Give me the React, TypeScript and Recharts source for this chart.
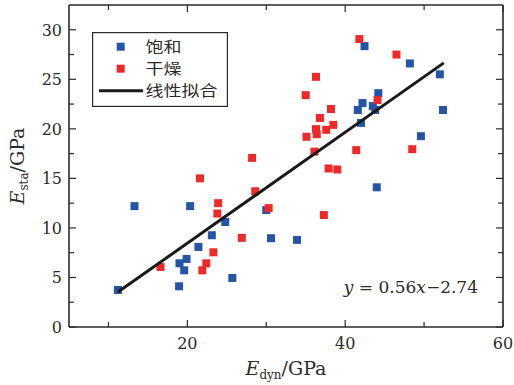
import { ScatterChart, Scatter, XAxis, YAxis, ZAxis, Legend } from 'recharts';

// 饱和 (saturated) samples
const saturatedDyn = [11.2, 13.3, 18.95, 19.0, 19.6, 19.9, 20.35, 21.4, 23.1, 24.8, 25.7, 30.0, 30.6, 33.9, 41.6, 42.0, 42.2, 42.45, 43.5, 43.8, 44.0, 44.2, 48.2, 49.6, 52.0, 52.4];
const saturatedSta = [3.74, 12.2, 4.11, 6.43, 5.72, 6.87, 12.2, 8.08, 9.26, 10.6, 4.95, 11.8, 8.96, 8.79, 21.9, 20.6, 22.6, 28.35, 22.3, 21.9, 14.1, 23.6, 26.6, 19.26, 25.5, 21.9];

// 干燥 (dry) samples
const dryDyn = [16.6, 21.6, 21.9, 22.4, 23.3, 23.8, 23.9, 26.9, 28.2, 28.6, 30.3, 35.0, 35.1, 36.1, 36.3, 36.3, 36.4, 36.8, 37.3, 37.6, 37.9, 38.2, 38.5, 39.0, 41.4, 41.8, 44.1, 46.5, 48.5];
const drySta = [6.06, 15.0, 5.72, 6.43, 7.54, 11.45, 12.5, 9.0, 17.07, 13.7, 12.0, 23.4, 19.2, 17.7, 25.25, 19.97, 19.46, 21.1, 11.3, 19.9, 16.0, 22.0, 20.4, 15.9, 17.85, 29.06, 22.9, 27.5, 17.95];

// 线性拟合 endpoints, y = 0.56x - 2.74
const fitDyn = [11.2, 52.5];
const fitSta = [3.53, 26.66];

const xTicks = [10, 20, 30, 40, 50, 60];
const xLabelTicks = [20, 40, 60];
const yTicks = [0, 2.5, 5, 7.5, 10, 12.5, 15, 17.5, 20, 22.5, 25, 27.5, 30];
const yLabelTicks = [0, 5, 10, 15, 20, 25, 30];

const BLUE = '#2454a6';
const RED = '#ec2a2a';
const INK = '#2a2a2a';
const SERIF = '"DejaVu Serif", serif';

const zip = (xs: number[], ys: number[]) => xs.map((x, i) => ({ x, y: ys[i] }));

const saturated = zip(saturatedDyn, saturatedSta);
const dry = zip(dryDyn, drySta);
const fit = zip(fitDyn, fitSta);

function makeTick(side: 'left' | 'right' | 'top' | 'bottom', labels: number[], showLabel: boolean) {
    return (props: any) => {
        const { x, y, payload } = props;
        const v = payload.value;
        const major = labels.includes(v);
        const len = major ? 7 : 5;
        let x2 = x, y2 = y;
        if (side == 'left') x2 = x + len;
        if (side == 'right') x2 = x - len;
        if (side == 'top') y2 = y + len;
        if (side == 'bottom') y2 = y - len;
        return (
            <g>
                <line x1={x} y1={y} x2={x2} y2={y2} stroke={INK} strokeWidth={1.2} />
                {showLabel && major && side == 'left' && (
                    <text x={x - 7} y={y} dy="0.36em" textAnchor="end" fontSize={16} fontFamily={SERIF} fill={INK}>{v}</text>
                )}
                {showLabel && major && side == 'bottom' && (
                    <text x={x} y={y + 21.5} textAnchor="middle" fontSize={16} fontFamily={SERIF} fill={INK}>{v}</text>
                )}
            </g>
        );
    };
}

const yTitle = (props: any) => {
    const vb = props.viewBox || { x: 0, y: 5, width: 69, height: 322 };
    const cx = vb.x + 24;
    const cy = vb.y + vb.height / 2;
    return (
        <text x={cx} y={cy} transform={`rotate(-90, ${cx}, ${cy})`} textAnchor="middle" fontSize={19} fontFamily={SERIF} fill={INK}>
            <tspan fontStyle="italic">E</tspan>
            <tspan fontSize={12} dy={4}>sta</tspan>
            <tspan dy={-4}>/GPa</tspan>
        </text>
    );
};

const xTitle = (props: any) => {
    const vb = props.viewBox || { x: 69, y: 327, width: 434, height: 58 };
    const cx = vb.x + vb.width / 2;
    return (
        <text x={cx} y={vb.y + 48} textAnchor="middle" fontSize={19} fontFamily={SERIF} fill={INK}>
            <tspan fontStyle="italic">E</tspan>
            <tspan fontSize={12} dy={4}>dyn</tspan>
            <tspan dy={-4}>/GPa</tspan>
        </text>
    );
};

const legendRows = [
    { name: '饱和', color: BLUE, kind: 'square', w: 36 },
    { name: '干燥', color: RED, kind: 'square', w: 36 },
    { name: '线性拟合', color: '#1a1a1a', kind: 'line', w: 72 },
];

const renderLegend = () => (
    <svg width={136} height={75} style={{ display: 'block' }}>
        <rect x={0.6} y={0.6} width={134.8} height={73.8} fill="#fff" stroke={INK} strokeWidth={1.2} />
        {legendRows.map((r, i) => {
            const cy = 14.7 + i * 22;
            return (
                <g key={r.name}>
                    {r.kind == 'square'
                        ? <rect x={24.7} y={cy - 4} width={8} height={8} fill={r.color} />
                        : <line x1={7} y1={cy} x2={51} y2={cy} stroke={r.color} strokeWidth={3} />}
                    <text
                        x={53.5} y={cy} dy="0.38em" fontSize={14.5} textLength={r.w} lengthAdjust="spacingAndGlyphs"
                        fontFamily='"Noto Sans CJK SC", sans-serif' fill={INK}
                    >{r.name}</text>
                </g>
            );
        })}
    </svg>
);

export default function App() {
    return (
        <div style={{ position: 'absolute', left: 0, top: 0, width: 514, height: 385, background: '#fff' }}>
            <ScatterChart width={514} height={385} margin={{ top: 0, right: 0, bottom: 0, left: 0 }}>
                <XAxis
                    type="number" dataKey="x" domain={[5, 60]} allowDataOverflow ticks={xTicks} interval={0}
                    height={58} tickSize={0} tickMargin={0} tickLine={false}
                    axisLine={{ stroke: INK, strokeWidth: 1.6 }}
                    tick={makeTick('bottom', xLabelTicks, true)}
                    label={{ content: xTitle }}
                />
                <XAxis
                    xAxisId="top" orientation="top" type="number" dataKey="x" domain={[5, 60]} allowDataOverflow ticks={xTicks} interval={0}
                    height={5} tickSize={0} tickMargin={0} tickLine={false}
                    axisLine={{ stroke: INK, strokeWidth: 1.6 }}
                    tick={makeTick('top', xLabelTicks, false)}
                />
                <YAxis
                    type="number" dataKey="y" domain={[0, 32.5]} allowDataOverflow ticks={yTicks} interval={0}
                    width={69} tickSize={0} tickMargin={0} tickLine={false}
                    axisLine={{ stroke: INK, strokeWidth: 1.6 }}
                    tick={makeTick('left', yLabelTicks, true)}
                    label={{ content: yTitle }}
                />
                <YAxis
                    yAxisId="right" orientation="right" type="number" dataKey="y" domain={[0, 32.5]} allowDataOverflow ticks={yTicks} interval={0}
                    width={11} tickSize={0} tickMargin={0} tickLine={false}
                    axisLine={{ stroke: INK, strokeWidth: 1.6 }}
                    tick={makeTick('right', yLabelTicks, false)}
                />
                <ZAxis range={[64, 64]} />
                <Scatter name="饱和" data={saturated} fill={BLUE} shape="square" isAnimationActive={false} />
                <Scatter name="干燥" data={dry} fill={RED} shape="square" isAnimationActive={false} />
                <Scatter
                    name="线性拟合" data={fit} line={{ stroke: '#1a1a1a', strokeWidth: 3 }} lineType="joint"
                    shape={() => <g />} legendType="none" isAnimationActive={false}
                />
                <Legend
                    layout="vertical" align="center" verticalAlign="middle" content={renderLegend}
                    wrapperStyle={{ left: 92, top: 32, width: 136, height: 75 }}
                />
                <text x={478} y={293.3} textAnchor="end" fontSize={17} fontFamily={SERIF} fill={INK}>
                    <tspan fontStyle="italic">y</tspan>
                    <tspan> = 0.56</tspan>
                    <tspan fontStyle="italic">x</tspan>
                    <tspan>−2.74</tspan>
                </text>
            </ScatterChart>
        </div>
    );
}
